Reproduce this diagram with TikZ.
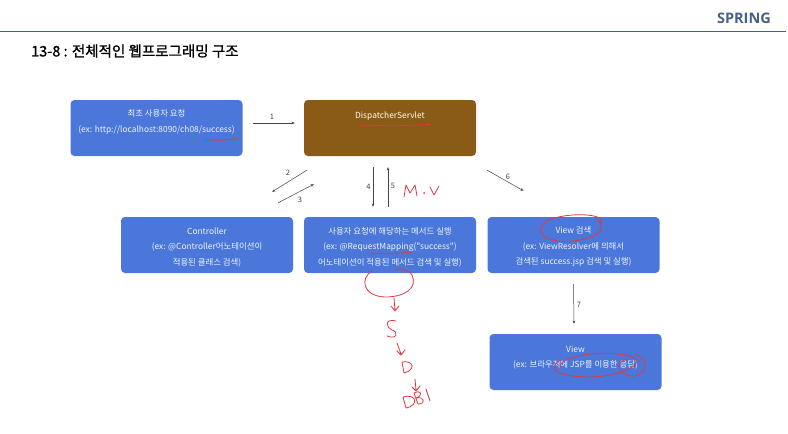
\documentclass[tikz,border=0pt]{standalone}
\usepackage{fontspec}
\newfontfamily\cjk{Noto Sans CJK KR}
\newfontfamily\cjkb[FakeBold=1.2]{Noto Sans CJK KR}
\newfontfamily\os{Open Sans}
\usetikzlibrary{arrows.meta}
\definecolor{boxblue}{HTML}{4A77D9}
\definecolor{dsbrown}{HTML}{8A5A17}
\definecolor{hdr}{HTML}{45618A}
\definecolor{pen}{HTML}{E0393E}
\definecolor{arr}{HTML}{444444}
\tikzset{
  box/.style={rectangle, rounded corners=4pt, fill=boxblue, minimum width=172pt, minimum height=56pt, inner sep=0pt},
  btext/.style={text=white!92!boxblue, font=\cjk\fontsize{8.4}{15.5}\selectfont, align=center, inner sep=0pt},
  flow/.style={draw=arr, line width=0.5pt, -{Stealth[length=3.2pt,width=2.6pt]}},
  num/.style={text=arr, font=\cjk\fontsize{7.5}{8}\selectfont, inner sep=0pt},
  ink/.style={draw=pen, line width=0.8pt, line cap=round, line join=round}
}
\begin{document}
\begin{tikzpicture}[x=1pt,y=-1pt]
\useasboundingbox (0,0) rectangle (788,434);
\fill[white] (0,0) rectangle (788,434);
% header
\node[anchor=east, text=hdr, font=\os\bfseries\fontsize{14.5}{16}\selectfont, inner sep=0pt] (spring) at (771,18) {SPRING};
\draw[hdr, line width=0.9pt] (0,31) -- (786,31);
\node[anchor=west, font=\cjkb\fontsize{14.5}{16}\selectfont, inner sep=0pt] (title) at (31,51) {13-8 : 전체적인 웹프로그래밍 구조};
% boxes
\node[box] (req) at (156.5,128) {};
\node[box, fill=dsbrown] (ds) at (390,128) {};
\node[box] (ctrl) at (207,245) {};
\node[box] (meth) at (390,245) {};
\node[box] (vsearch) at (573.5,245) {};
\node[box] (view) at (575.5,362) {};
% texts
\node[btext] (reqt) at (156.5,122) {최초 사용자 요청\\(ex: http://localhost:8090/ch08/success)};
\node[btext, text=white!90!yellow] (dst) at (390,116) {DispatcherServlet};
\node[btext] (ctrlt) at (207,247) {Controller\\(ex: @Controller어노테이션이\\적용된 클래스 검색)};
\node[btext] (metht) at (390,247) {사용자 요청에 해당하는 메서드 실행\\(ex: @RequestMapping("success")\\어노테이션이 적용된 메서드 검색 및 실행)};
\node[btext] (vsearcht) at (573.5,247) {View 검색\\(ex: ViewResolver에 의해서\\검색된 success.jsp 검색 및 실행)};
\node[btext] (viewt) at (575.5,357.5) {View\\(ex: 브라우저에 JSP를 이용한 응답)};
% arrows
\draw[flow] ([shift={(10,-5)}]req.east) -- ([shift={(-9,-5)}]ds.west);
\node[num] (n1) at (272,117) {1};
\draw[flow] ([shift={(3,14)}]ds.south west) -- ([shift={(-21,-25)}]ctrl.north east);
\node[num] (n2) at (288,173) {2};
\draw[flow] ([shift={(-15,-14)}]ctrl.north east) -- ([shift={(10,28)}]ds.south west);
\node[num] (n3) at (300,200) {3};
\draw[flow] ([shift={(-17,11)}]ds.south) -- ([shift={(-17,-10)}]meth.north);
\node[num] (n4) at (368.5,187) {4};
\draw[flow] ([shift={(-2,-10)}]meth.north) -- ([shift={(-2,11)}]ds.south);
\node[num] (n5) at (393,186) {5};
\draw[flow] ([shift={(11,14)}]ds.south east) -- ([shift={(-50,-26)}]vsearch.north);
\node[num] (n6) at (508,177) {6};
\draw[flow] ([shift={(0,11)}]vsearch.south) -- ([shift={(-1.5,-10)}]view.north);
\node[num] (n7) at (579,305) {7};
% red handwriting
\draw[ink] (205,139.5) .. controls (220,140.5) .. (237,138.5);
\draw[ink] (357,125) .. controls (395,126) .. (430,124.5);
\draw[ink] (371,253) .. controls (390,254) .. (411,252.5);
% M.V
\draw[ink] (404,197) -- (406,185) -- (410,193) -- (415,185) -- (417,196);
\fill[pen] (424,193) circle (1pt);
\draw[ink] (430,187) -- (434,195) -- (439,186);
% circle around View 검색
\draw[ink] (600,224) .. controls (610,212) and (560,212) .. (545,222) .. controls (533,232) and (545,246) .. (580,240) .. controls (600,236) and (606,228) .. (598,220);
% circle below method box
\draw[ink] (372,271) .. controls (360,278) and (362,296) .. (385,297) .. controls (405,297) and (418,288) .. (412,275) .. controls (408,268) and (398,268) .. (395,270);
% chain arrows S D DB
\draw[ink] (394,298) -- (395,310) (391,306) -- (395,311) -- (399,306);
\draw[ink] (396,321) .. controls (384,318) and (386,328) .. (392,330) .. controls (399,332) and (397,340) .. (387,336);
\draw[ink] (397,343) -- (401,354) (397,351) -- (401,355) -- (405,350);
\draw[ink] (402,362) -- (404,373) (402,362) .. controls (414,360) and (416,370) .. (404,373);
\draw[ink] (415,379) -- (416,390) (412,387) -- (416,391) -- (420,386);
\draw[ink] (403,397) -- (406,408) (403,397) .. controls (416,393) and (420,405) .. (406,408);
\draw[ink] (414,393) -- (418,404) (414,393) .. controls (422,389) and (423,396) .. (416,398) .. controls (425,396) and (426,404) .. (418,404);
\draw[ink] (426,389) -- (430,401);
% ellipses in View box
\draw[ink] (560,366) .. controls (565,352) and (620,350) .. (635,358) .. controls (645,365) and (615,378) .. (585,377) .. controls (560,376) and (545,370) .. (560,360);
\draw[ink] (628,360) .. controls (618,358) and (614,372) .. (630,376) .. controls (645,378) and (652,360) .. (636,355);
\end{tikzpicture}
\end{document}
